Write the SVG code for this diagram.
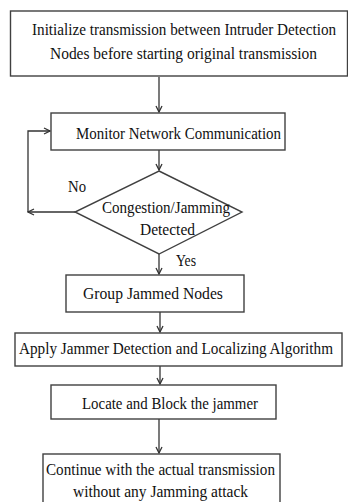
<svg xmlns="http://www.w3.org/2000/svg" width="348" height="502" viewBox="0 0 348 502">
<defs>
<style>
.box{fill:#fff;stroke:#404040;stroke-width:1.4}
.t{font-family:"Liberation Serif","Times New Roman",serif;font-size:17px;fill:#111}
.c{fill:none;stroke:#333;stroke-width:1.3}
</style>
<marker id="ah" viewBox="0 0 8 8" markerWidth="8" markerHeight="8" refX="7" refY="4" orient="auto" markerUnits="userSpaceOnUse">
<path d="M1,1 L7,4 L1,7" fill="none" stroke="#333" stroke-width="1.3"/>
</marker>
</defs>
<rect width="348" height="502" fill="#fff"/>
<g id="connectors">
<path class="c" d="M159,77 V112" marker-end="url(#ah)"/>
<path class="c" d="M159,150 V170" marker-end="url(#ah)"/>
<path class="c" d="M75,212 H28" marker-end="url(#ah)"/>
<path class="c" d="M28,212 V131 H50" marker-end="url(#ah)"/>
<path class="c" d="M159,254 V274" marker-end="url(#ah)"/>
<path class="c" d="M160,312 V332" marker-end="url(#ah)"/>
<path class="c" d="M160,366 V384" marker-end="url(#ah)"/>
<path class="c" d="M159,419 V453" marker-end="url(#ah)"/>
<text class="t" transform="translate(68,192) scale(0.88,1)" textLength="20.5" lengthAdjust="spacingAndGlyphs">No</text>
<text class="t" transform="translate(176,266) scale(0.88,1)" textLength="22.7" lengthAdjust="spacingAndGlyphs">Yes</text>
</g>
<g id="n1">
<rect class="box" x="10.5" y="11" width="337" height="65"/>
<text class="t" transform="translate(32,35) scale(0.88,1)" textLength="345.5" lengthAdjust="spacingAndGlyphs">Initialize  transmission between Intruder Detection</text>
<text class="t" transform="translate(50,59) scale(0.88,1)" textLength="303.4" lengthAdjust="spacingAndGlyphs">Nodes  before starting original  transmission</text>
</g>
<g id="n2">
<rect class="box" x="51" y="113" width="234" height="37"/>
<text class="t" transform="translate(76,139) scale(0.88,1)" textLength="233" lengthAdjust="spacingAndGlyphs">Monitor Network  Communication</text>
</g>
<g id="n3">
<polygon class="box" points="159,171 242,212 159,254 75,212"/>
<text class="t" transform="translate(102,213) scale(0.88,1)" textLength="145.5" lengthAdjust="spacingAndGlyphs">Congestion/Jamming</text>
<text class="t" transform="translate(140,235) scale(0.88,1)" textLength="62.5" lengthAdjust="spacingAndGlyphs">Detected</text>
</g>
<g id="n4">
<rect class="box" x="66" y="275" width="178" height="37"/>
<text class="t" transform="translate(83,299) scale(0.88,1)" textLength="159" lengthAdjust="spacingAndGlyphs">Group  Jammed Nodes</text>
</g>
<g id="n5">
<rect class="box" x="15" y="333" width="327" height="33"/>
<text class="t" transform="translate(19,354) scale(0.88,1)" textLength="356.8" lengthAdjust="spacingAndGlyphs">Apply Jammer  Detection and Localizing   Algorithm</text>
</g>
<g id="n6">
<rect class="box" x="51" y="385" width="225" height="34"/>
<text class="t" transform="translate(82,409) scale(0.88,1)" textLength="200" lengthAdjust="spacingAndGlyphs">Locate and Block  the jammer</text>
</g>
<g id="n7">
<rect class="box" x="43" y="454" width="237" height="60"/>
<text class="t" transform="translate(46,475) scale(0.88,1)" textLength="260.2" lengthAdjust="spacingAndGlyphs">Continue with the actual transmission</text>
<text class="t" transform="translate(73,497) scale(0.88,1)" textLength="198.9" lengthAdjust="spacingAndGlyphs">without  any Jamming  attack</text>
</g>
</svg>
